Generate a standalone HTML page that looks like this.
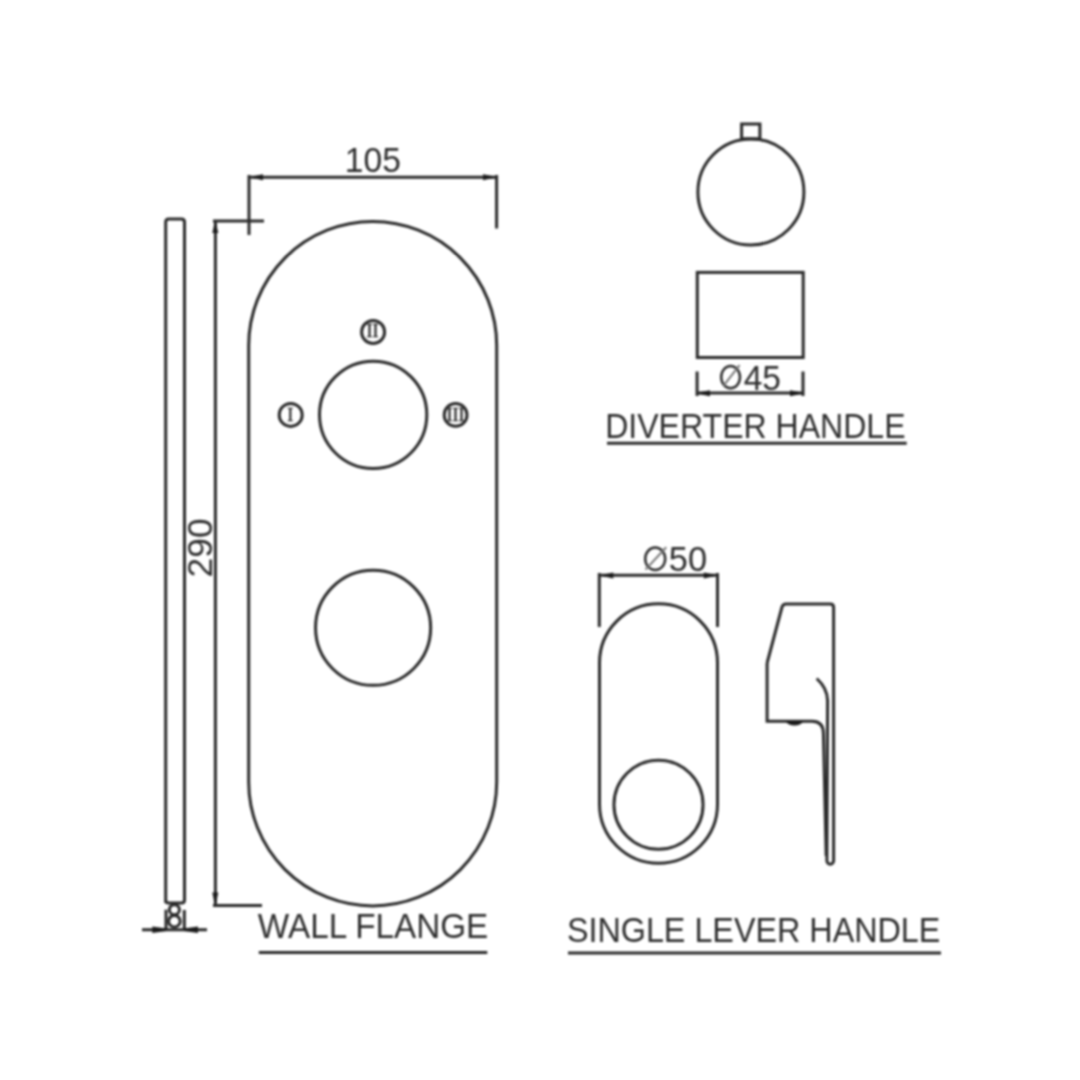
<!DOCTYPE html>
<html><head><meta charset="utf-8"><style>
html,body{margin:0;padding:0;background:#fff;overflow:hidden;}
svg{display:block;}
#wrap{filter:blur(1px);width:1080px;height:1080px;}
text{font-family:"Liberation Sans",sans-serif;fill:#2e2e2e;stroke:none;}
.s{fill:none;stroke:#2a2a2a;stroke-width:3;}
.a{fill:#1a1a1a;stroke:none;}
text.n{font-family:"Liberation Serif",serif;font-size:18px;stroke:#2a2a2a;stroke-width:0.4px;fill:#2a2a2a;}
</style></head><body><div id="wrap">
<svg width="1080" height="1080" viewBox="0 0 1080 1080">
<rect width="1080" height="1080" fill="#fff"/>
<!-- rod -->
<path class="s" d="M165.7,903 L165.7,222 Q165.7,219 168.7,219 L181.5,219 Q184.5,219 184.5,222 L184.5,900 Q184.5,903 181.5,903 L168.7,903 Q165.7,903 165.7,900"/>
<circle class="s" cx="174.4" cy="909.7" r="5"/>
<circle class="s" cx="174.4" cy="921.2" r="5.8"/>
<line class="s" x1="166" y1="909.7" x2="166" y2="929"/>
<line class="s" x1="184.3" y1="910" x2="184.3" y2="929"/>
<line class="s" x1="142" y1="929.8" x2="207" y2="929.8" stroke-width="3"/>
<!-- 290 dim -->
<line class="s" x1="215.4" y1="221" x2="215.4" y2="905.5"/>
<line class="s" x1="213" y1="221" x2="264" y2="221"/>
<line class="s" x1="213" y1="905.6" x2="262" y2="905.6"/>
<text font-size="35" transform="translate(211.9,577.4) rotate(-90) scale(1.01,1)">290</text>
<!-- 105 dim -->
<line class="s" x1="249" y1="175" x2="249" y2="235"/>
<line class="s" x1="496.6" y1="175" x2="496.6" y2="228.5"/>
<line class="s" x1="249" y1="177.2" x2="496.6" y2="177.2"/>
<text transform="translate(344.8,172.3) scale(0.96,1)" font-size="35">105</text>
<!-- flange -->
<path class="s" d="M248.7,345.5 A124,124 0 0 1 496.7,345.5 L496.7,781.9 A124,124 0 0 1 248.7,781.9 Z"/>
<circle class="s" cx="373.15" cy="414.8" r="53.65"/>
<circle class="s" cx="373.1" cy="627.8" r="57.55"/>
<circle class="s" cx="373.1" cy="332" r="11.5" stroke-width="2.6"/>
<circle class="s" cx="290.7" cy="414.9" r="11.5" stroke-width="2.6"/>
<circle class="s" cx="455.6" cy="414.9" r="11.4" stroke-width="2.6"/>
<text class="n" x="372.6" y="337.4" text-anchor="middle">II</text>
<text class="n" x="290.2" y="421.1" text-anchor="middle">I</text>
<text class="n" x="455.4" y="421.1" text-anchor="middle">III</text>
<text transform="translate(257.8,938) scale(0.951,1)" font-size="35">WALL FLANGE</text>
<line class="s" x1="258.8" y1="952.6" x2="487.3" y2="952.6" stroke-width="3"/>
<!-- diverter -->
<circle class="s" cx="750.9" cy="192" r="53"/>
<path class="s" d="M741.6,139.5 L741.6,124 L759.9,124 L759.9,139.5 M741.6,138.8 L759.9,138.8"/>
<rect class="s" x="697.3" y="272.4" width="105.9" height="85.1"/>
<line class="s" x1="697.1" y1="371.5" x2="697.1" y2="396"/>
<line class="s" x1="803" y1="371.5" x2="803" y2="396"/>
<line class="s" x1="697.1" y1="393" x2="803" y2="393"/>
<ellipse cx="730.6" cy="377.1" rx="9.4" ry="11.2" fill="none" stroke="#2e2e2e" stroke-width="2.5"/>
<line x1="723.2" y1="386.2" x2="739.6" y2="365.2" stroke="#777" stroke-width="2"/>
<text transform="translate(743.7,389.5) scale(0.958,1)" font-size="35">45</text>
<text transform="translate(605.2,437.8) scale(0.916,1)" font-size="35">DIVERTER HANDLE</text>
<line class="s" x1="607" y1="443.3" x2="906.7" y2="443.3" stroke-width="3"/>
<!-- single lever -->
<line class="s" x1="599.3" y1="573" x2="599.3" y2="627"/>
<line class="s" x1="717.5" y1="573" x2="717.5" y2="627"/>
<line class="s" x1="599.3" y1="575.2" x2="717.5" y2="575.2"/>
<ellipse cx="655.2" cy="558.8" rx="10" ry="11.2" fill="none" stroke="#2e2e2e" stroke-width="2.5"/>
<line x1="645.5" y1="569.6" x2="666.2" y2="547.2" stroke="#777" stroke-width="2"/>
<text transform="translate(668.84,571) scale(0.982,1)" font-size="35">50</text>
<path class="s" d="M599.5,662.8 A59,59 0 0 1 717.5,662.8 L717.5,804.3 A59,59 0 0 1 599.5,804.3 Z"/>
<circle class="s" cx="658.5" cy="804.8" r="44.55"/>
<!-- lever profile -->
<path class="s" stroke-width="2.5" d="M767.1,663 L782,607 Q783,604 786,604 L830.3,604 Q833.6,604 833.6,607.5 L833.6,860.8 A3.35,3.35 0 0 1 826.9,860.8 L827.6,700.6 Q827.3,688 816.7,678.5"/>
<path class="s" stroke-width="2.2" d="M767.1,663 L767.1,721.2 L812,721.2 Q823.4,721.2 823.4,733.3 L826.2,856"/>

<path class="a" d="M785.6,721.2 L803.3,721.2 Q800.5,725.5 794.5,725.5 Q788.5,725.5 785.6,721.2 Z"/>
<text transform="translate(566.9,942) scale(0.9236,1)" font-size="35">SINGLE LEVER HANDLE</text>
<line class="s" x1="568" y1="953.1" x2="941" y2="953.1" stroke-width="3"/>
<!-- arrows -->
<polygon class="a" points="166.3,928.6 152.3,926.6 152.3,933.0 166.3,931.0"/>
<polygon class="a" points="184.0,928.6 198.0,926.6 198.0,933.0 184.0,931.0"/>
<polygon class="a" points="214.4,224.0 212.3,233.0 218.3,233.0 216.2,224.0"/>
<polygon class="a" points="214.4,902.4 212.3,892.4 218.3,892.4 216.2,902.4"/>
<polygon class="a" points="252.8,176.3 263.0,174.2 263.0,180.2 252.8,178.1"/>
<polygon class="a" points="493.4,176.3 483.0,174.2 483.0,180.2 493.4,178.1"/>
<polygon class="a" points="699.0,392.3 710.0,390.2 710.0,396.2 699.0,394.1"/>
<polygon class="a" points="801.0,392.3 790.0,390.2 790.0,396.2 801.0,394.1"/>
<polygon class="a" points="603.3,574.5 613.3,572.4 613.3,578.4 603.3,576.3"/>
<polygon class="a" points="714.0,574.5 703.8,572.4 703.8,578.4 714.0,576.3"/>
</svg></div>
</body></html>
